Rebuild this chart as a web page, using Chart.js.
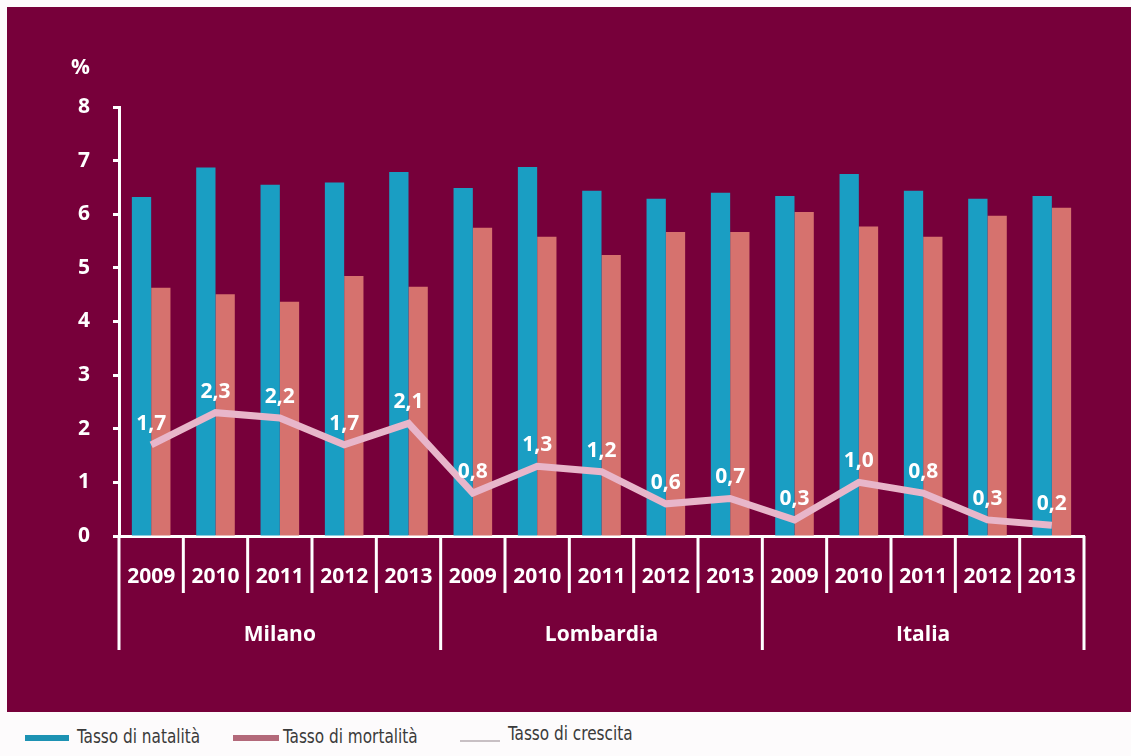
<!DOCTYPE html>
<html>
<head>
<meta charset="utf-8">
<script src="https://cdn.jsdelivr.net/npm/chart.js@4.4.0/dist/chart.umd.min.js"></script>
<style>
  html, body { margin: 0; padding: 0; background: #fdfbfc; }
  #wrap { position: relative; width: 1131px; height: 756px; overflow: hidden; }
  #panel { position: absolute; left: 7px; top: 7px; width: 1124px; height: 705px; background: #77003a; }
  #chartBox { position: absolute; left: 0; top: 0; width: 1131px; height: 712px; }
  .legend { position: absolute; font-family: "Liberation Sans Narrow", "DejaVu Sans Condensed", "Open Sans", sans-serif; font-size: 20px; color: #3a3a3a; line-height: 20px; white-space: nowrap; transform: scaleX(0.85); transform-origin: 0 50%; }
  .swatch { position: absolute; height: 6px; }
</style>
</head>
<body>
<div id="wrap">
  <div id="panel"></div>
  <div id="chartBox"><canvas id="chart"></canvas></div>
  <div class="swatch" style="left:25px;top:735px;width:44px;background:#1d92b3;"></div>
  <div class="legend" style="left:77px;top:726px;">Tasso di natalità</div>
  <div class="swatch" style="left:233px;top:735px;width:46px;background:#b3697a;"></div>
  <div class="legend" style="left:283px;top:726px;">Tasso di mortalità</div>
  <div class="swatch" style="left:460px;top:740px;width:40px;height:2px;background:#c8c0c4;"></div>
  <div class="legend" style="left:508px;top:723px;">Tasso di crescita</div>
</div>
<script>
const groups = ["Milano", "Lombardia", "Italia"];
const years = ["2009", "2010", "2011", "2012", "2013"];
const natalita = [6.32, 6.87, 6.55, 6.59, 6.79, 6.49, 6.88, 6.44, 6.29, 6.40, 6.34, 6.75, 6.44, 6.29, 6.34];
const mortalita = [4.63, 4.51, 4.37, 4.85, 4.65, 5.75, 5.58, 5.24, 5.67, 5.67, 6.04, 5.77, 5.58, 5.97, 6.12];
const crescita = [1.7, 2.3, 2.2, 1.7, 2.1, 0.8, 1.3, 1.2, 0.6, 0.7, 0.3, 1.0, 0.8, 0.3, 0.2];
const yTicks = [0, 1, 2, 3, 4, 5, 6, 7, 8];

const labels = groups.flatMap(() => years);
const boldFont = '"Open Sans", "DejaVu Sans", sans-serif';

const overlay = {
  id: "overlay",
  afterDraw(chart) {
    const ctx = chart.ctx;
    const x = chart.scales.x;
    const y = chart.scales.y;
    const base = y.getPixelForValue(0);
    const half = (x.getPixelForValue(1) - x.getPixelForValue(0)) / 2;
    ctx.save();
    ctx.strokeStyle = "#ffffff";
    ctx.lineWidth = 3;
    for (let i = 0; i <= labels.length; i++) {
      const bx = x.getPixelForValue(i) - half;
      ctx.beginPath();
      ctx.moveTo(bx, base);
      ctx.lineTo(bx, i % years.length === 0 ? base + 114 : base + 57);
      ctx.stroke();
    }
    ctx.fillStyle = "#ffffff";
    ctx.font = "bold 21px " + boldFont;
    ctx.textAlign = "center";
    ctx.textBaseline = "middle";
    groups.forEach((g, gi) => {
      const left = x.getPixelForValue(gi * years.length) - half;
      const right = x.getPixelForValue(gi * years.length + years.length - 1) + half;
      ctx.fillText(g, (left + right) / 2, base + 99);
    });
    // line values
    const meta = chart.getDatasetMeta(2);
    meta.data.forEach((pt, i) => {
      ctx.fillText(crescita[i].toFixed(1).replace(".", ","), pt.x, pt.y - 21);
    });
    ctx.textAlign = "right";
    ctx.fillText("%", chart.chartArea.left - 29, y.getPixelForValue(8) - 39);
    ctx.restore();
  }
};

new Chart(document.getElementById("chart"), {
  data: {
    labels,
    datasets: [
      {
        type: "bar",
        label: "Tasso di natalità",
        data: natalita,
        backgroundColor: "#1a9ec3",
        categoryPercentage: 0.6,
        barPercentage: 1,
        order: 2
      },
      {
        type: "bar",
        label: "Tasso di mortalità",
        data: mortalita,
        backgroundColor: "#d6726e",
        categoryPercentage: 0.6,
        barPercentage: 1,
        order: 2
      },
      {
        type: "line",
        label: "Tasso di crescita",
        data: crescita,
        borderColor: "#e8b6ca",
        borderWidth: 7,
        pointRadius: 0,
        tension: 0,
        order: 1
      }
    ]
  },
  options: {
    responsive: true,
    maintainAspectRatio: false,
    animation: false,
    layout: {
      padding: { left: 59, top: 107, right: 47, bottom: 116 }
    },
    plugins: {
      legend: { display: false },
      tooltip: { enabled: false }
    },
    scales: {
      x: {
        offset: true,
        afterFit: (scale) => { scale.height = 60; },
        grid: { display: false, drawTicks: false },
        border: { color: "#ffffff", width: 3 },
        ticks: {
          color: "#ffffff",
          padding: 28,
          maxRotation: 0,
          autoSkip: false,
          font: { family: boldFont, size: 21, weight: "bold" }
        }
      },
      y: {
        min: 0,
        max: 8,
        afterFit: (scale) => { scale.width = 60; },
        afterBuildTicks: (scale) => { scale.ticks = yTicks.map((v) => ({ value: v })); },
        grid: { drawOnChartArea: false, drawTicks: true, tickLength: 6, tickColor: "#ffffff", tickWidth: 3 },
        border: { color: "#ffffff", width: 3 },
        ticks: {
          color: "#ffffff",
          padding: 23,
          font: { family: boldFont, size: 21, weight: "bold" }
        }
      }
    }
  },
  plugins: [overlay]
});
</script>
</body>
</html>
